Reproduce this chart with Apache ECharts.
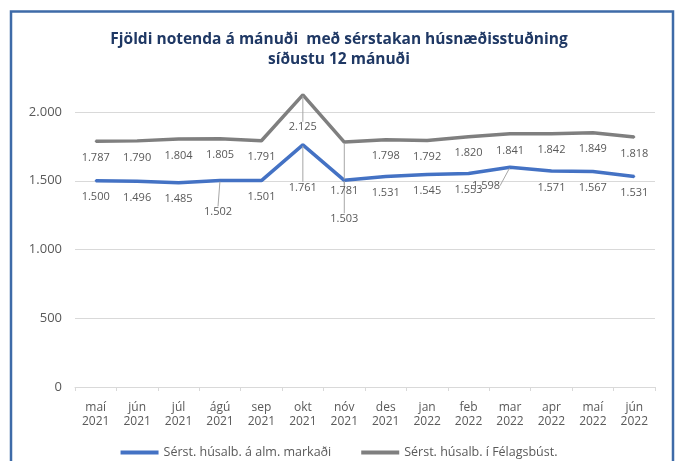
<!DOCTYPE html>
<html>
<head>
<meta charset="utf-8">
<script src="https://cdn.jsdelivr.net/npm/echarts@6/dist/echarts.min.js"></script>
<style>
  html, body { margin: 0; padding: 0; background: #fff; }
  #chart { width: 678px; height: 461px; }
</style>
</head>
<body>
<div id="chart"></div>
<script>
const months = ['maí\n2021', 'jún\n2021', 'júl\n2021', 'ágú\n2021', 'sep\n2021', 'okt\n2021', 'nóv\n2021',
  'des\n2021', 'jan\n2022', 'feb\n2022', 'mar\n2022', 'apr\n2022', 'maí\n2022', 'jún\n2022'];
const almMarkadur = [1500, 1496, 1485, 1502, 1501, 1761, 1503, 1531, 1545, 1553, 1598, 1571, 1567, 1531];
const felagsbust = [1787, 1790, 1804, 1805, 1791, 2125, 1781, 1798, 1792, 1820, 1841, 1842, 1849, 1818];
const seriesNames = ['Sérst. húsalb. á alm. markaði', 'Sérst. húsalb. í Félagsbúst.'];

// labels Excel pushed away from their points (series index -> data index -> shift)
const labelShift = {
  0: { 3: [-2, 15], 5: [0, 26], 6: [0, 22], 10: [-24, 2] },
  1: { 5: [0, 16], 6: [0, 32] }
};

const fmt = v => String(v).replace(/\B(?=(\d{3})+(?!\d))/g, '.');
const font = '"Open Sans", "Noto Sans", sans-serif';

function buildData(values, si) {
  return values.map((v, i) => {
    const s = labelShift[si][i];
    return s ? { value: v, labelLine: { show: true } } : v;
  });
}

const chart = echarts.init(document.getElementById('chart'), null, { renderer: 'canvas' });

const mkSeries = (values, si, color) => ({
  name: seriesNames[si],
  type: 'line',
  data: buildData(values, si),
  symbol: 'circle',
  symbolSize: 2,
  itemStyle: { color: color },
  lineStyle: { color: color, width: 3.5 },
  label: {
    show: true,
    position: 'bottom',
    distance: 10,
    color: '#595959',
    fontSize: 11,
    fontFamily: font,
    formatter: p => fmt(p.value)
  },
  labelLine: { show: false, lineStyle: { color: '#a6a6a6', width: 1 } },
  labelLayout: p => {
    const s = labelShift[si][p.dataIndex];
    return s ? { dx: s[0], dy: s[1] } : {};
  },
  animation: false
});

chart.setOption({
  animation: false,
  title: {
    text: 'Fjöldi notenda á mánuði  með sérstakan húsnæðisstuðning\nsíðustu 12 mánuði',
    left: 'center',
    top: 25,
    textStyle: { color: '#1f3864', fontSize: 15.5, fontWeight: 'bold', fontFamily: font, lineHeight: 20 }
  },
  graphic: [{
    type: 'rect',
    shape: { x: 11, y: 11.5, width: 662, height: 470 },
    style: { fill: 'none', stroke: '#3e6ba8', lineWidth: 2.5 },
    silent: true
  }],
  grid: { left: 75, right: 23, top: 43.25, bottom: 74 },
  legend: {
    top: 441,
    left: 'center',
    itemWidth: 38,
    itemHeight: 4,
    itemGap: 30,
    icon: 'rect',
    textStyle: { color: '#595959', fontSize: 12.5, fontFamily: font }
  },
  xAxis: {
    type: 'category',
    data: months,
    boundaryGap: true,
    axisLine: { lineStyle: { color: '#d9d9d9' } },
    axisTick: { show: true, length: 4, lineStyle: { color: '#d9d9d9' } },
    axisLabel: { color: '#595959', fontSize: 12, fontFamily: font, lineHeight: 14, margin: 14, interval: 0 }
  },
  yAxis: {
    type: 'value',
    min: 0,
    max: 2500,
    interval: 500,
    axisLine: { show: false },
    axisTick: { show: false },
    axisLabel: { color: '#595959', fontSize: 13, fontFamily: font, margin: 13, showMaxLabel: false, formatter: fmt },
    splitLine: { show: true, showMaxLine: false, lineStyle: { color: '#d9d9d9' } }
  },
  series: [
    mkSeries(almMarkadur, 0, '#4472c4'),
    mkSeries(felagsbust, 1, '#7f7f7f')
  ]
});
</script>
</body>
</html>
